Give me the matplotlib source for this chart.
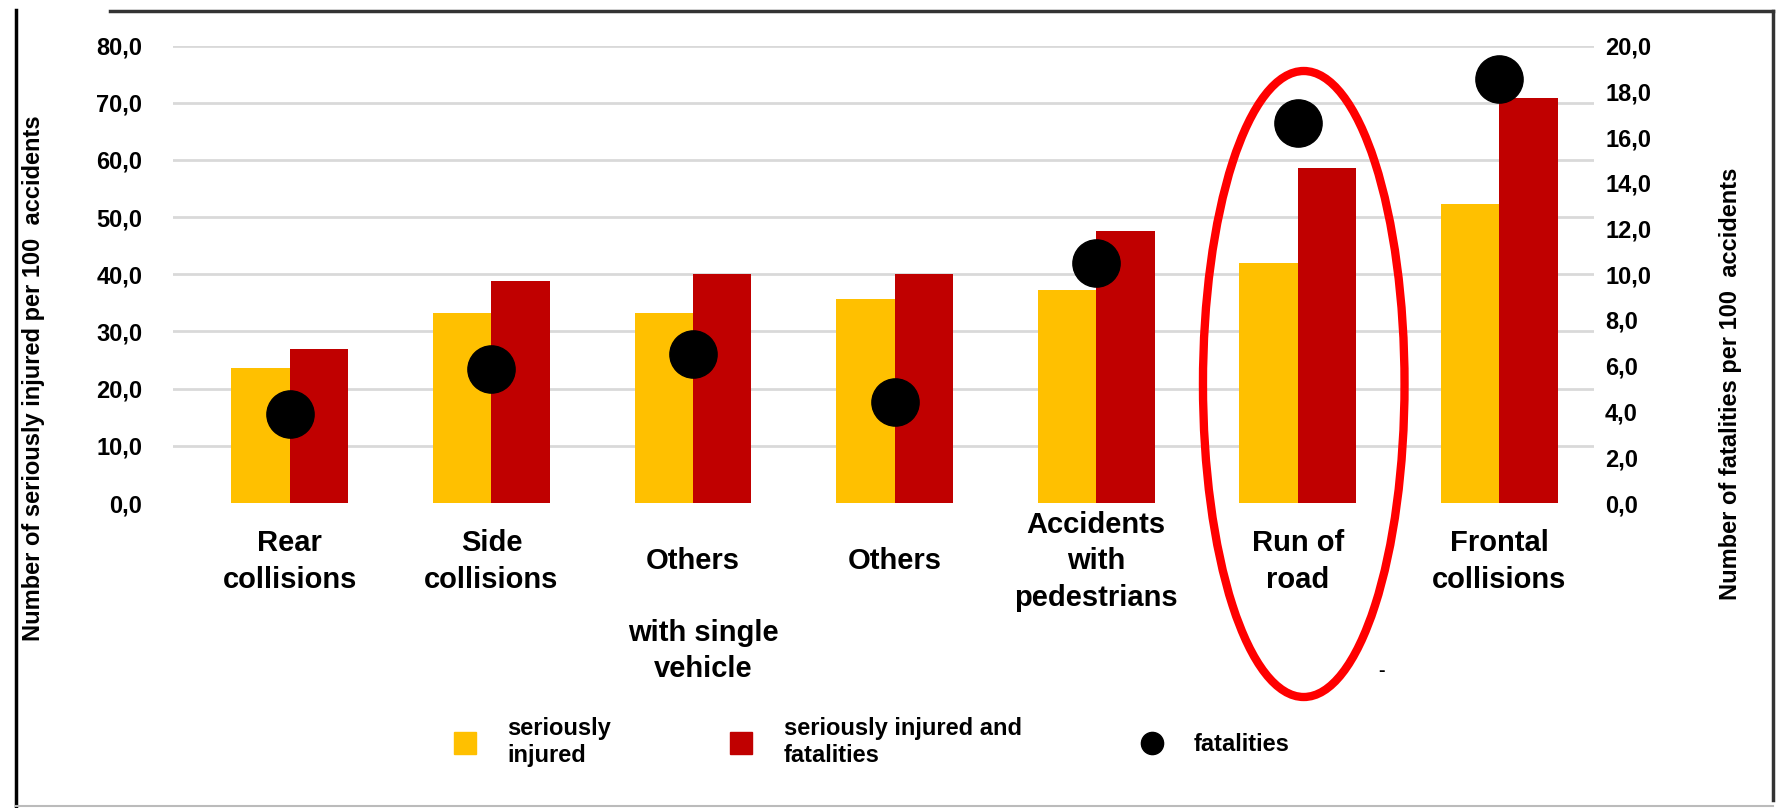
"""
Seriously injured / fatalities per 100 accidents by accident type.
"""
import matplotlib
matplotlib.use("Agg")
import matplotlib.pyplot as plt
from matplotlib.lines import Line2D
from matplotlib.patches import Ellipse
from matplotlib.ticker import FuncFormatter
import matplotlib.transforms as mtransforms

plt.rcParams['font.family'] = ['Liberation Sans', 'DejaVu Sans']
plt.rcParams['font.weight'] = 'bold'

# data
categories = ['Rear\ncollisions', 'Side\ncollisions', 'Others', 'Others',
              'Accidents\nwith\npedestrians', 'Run of\nroad', 'Frontal\ncollisions']
seriously_injured = [23.6, 33.3, 33.3, 35.6, 37.2, 42.0, 52.2]
injured_and_fatalities = [27.0, 38.9, 40.0, 40.1, 47.5, 58.5, 70.8]
fatalities = [3.9, 5.85, 6.5, 4.4, 10.5, 16.6, 18.55]

left_ticks = [0, 10, 20, 30, 40, 50, 60, 70, 80]
right_ticks = [0, 2, 4, 6, 8, 10, 12, 14, 16, 18, 20]

YELLOW = '#FFC000'
RED = '#C00000'

W, H = 1785, 808
fig = plt.figure(figsize=(W / 100, H / 100), dpi=100)
ax = fig.add_axes([173 / W, 1 - 503 / H, (1594 - 173) / W, (503 - 45.5) / H])

x = list(range(len(categories)))
bw = 0.29
ax.bar([i - bw / 2 for i in x], seriously_injured, width=bw, color=YELLOW, zorder=2)
ax.bar([i + bw / 2 for i in x], injured_and_fatalities, width=bw, color=RED, zorder=2)

ax.set_xlim(-0.58, 6.47)
ax.set_ylim(0, 80)
ax.set_yticks(left_ticks)
comma = FuncFormatter(lambda v, p: f'{v:.1f}'.replace('.', ','))
ax.yaxis.set_major_formatter(comma)
for y in left_ticks[1:]:
    ax.axhline(y, color='#D9D9D9', lw=2, zorder=1)
for s in ax.spines.values():
    s.set_visible(False)
ax.tick_params(axis='y', length=0, pad=22, labelsize=17)
ax.set_xticks(x)
ax.set_xticklabels(categories, fontsize=21, linespacing=1.4)
ax.tick_params(axis='x', length=0, pad=42)
for lab in ax.get_xticklabels():
    lab.set_va('center')

ax2 = ax.twinx()
ax2.set_ylim(0, 20)
ax2.set_yticks(right_ticks)
ax2.yaxis.set_major_formatter(comma)
ax2.tick_params(axis='y', length=0, pad=8, labelsize=17)
for s in ax2.spines.values():
    s.set_visible(False)
ax2.plot(x, fatalities, 'o', color='black', markersize=34, zorder=3)

# group caption under the first "Others"
trans = mtransforms.blended_transform_factory(ax.transData, fig.transFigure)
ax.text(2.05, 1 - 651 / H, 'with single\nvehicle', transform=trans, ha='center', va='center',
        fontsize=21, linespacing=1.4)

# red highlight around "Run of road"
ell = Ellipse((5.03, 1 - 384 / H), 1.0, 626 / H, transform=trans, fill=False,
              edgecolor='#FF0000', lw=6, clip_on=False, zorder=5)
ax.add_artist(ell)
fig.text(1381 / W, 1 - 672 / H, '-', fontsize=14, ha='center', va='center')

fig.text(34 / W, 1 - 378 / H, 'Number of seriously injured per 100  accidents', rotation=90,
         ha='center', va='center', fontsize=17)
fig.text(1730 / W, 1 - 384 / H, 'Number of fatalities per 100  accidents', rotation=90,
         ha='center', va='center', fontsize=17)

handles = [
    Line2D([], [], marker='s', linestyle='none', color=YELLOW, markersize=16),
    Line2D([], [], marker='s', linestyle='none', color=RED, markersize=16),
    Line2D([], [], marker='o', linestyle='none', color='black', markersize=16),
]
fig.legend(handles, ['seriously\ninjured', 'seriously injured and\nfatalities', 'fatalities'],
           loc='center', bbox_to_anchor=(0.485, 1 - 742 / H), ncol=3, frameon=False,
           fontsize=17, columnspacing=4.5, handletextpad=0.8)

# picture frame
fig.add_artist(Line2D([110 / W, 1773 / W], [1 - 11 / H, 1 - 11 / H], color='#333333', lw=2.5))
fig.add_artist(Line2D([16 / W, 16 / W], [1 - 10 / H, 0], color='black', lw=2.5))
fig.add_artist(Line2D([1773 / W, 1773 / W], [1 - 11 / H, 1 - 800 / H], color='#333333', lw=2.5))
fig.add_artist(Line2D([16 / W, 1773 / W], [1 - 806 / H, 1 - 806 / H], color='#BBBBBB', lw=1.5))

fig.savefig('out.png', dpi=100)
